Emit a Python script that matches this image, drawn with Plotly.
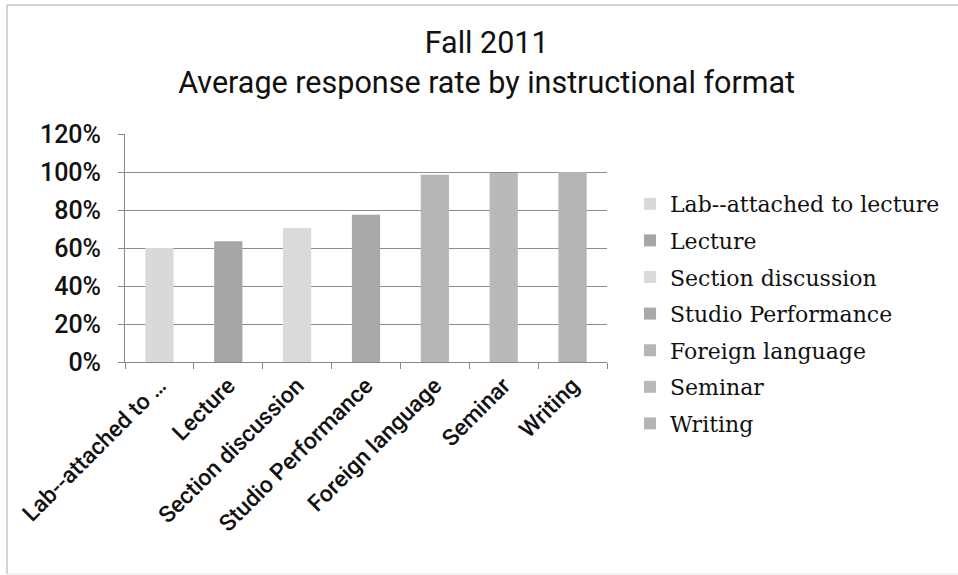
import plotly.graph_objects as go

categories = ["Lab--attached to lecture", "Lecture", "Section discussion",
              "Studio Performance", "Foreign language", "Seminar", "Writing"]
tick_labels = ["Lab--attached to …", "Lecture", "Section discussion",
               "Studio Performance", "Foreign language", "Seminar", "Writing"]
values = [0.60, 0.635, 0.705, 0.775, 0.985, 0.995, 1.00]
colors = ["#d9d9d9", "#a6a6a6", "#dadada", "#a9a9a9", "#b6b6b6", "#b9b9b9", "#b4b4b4"]

fig = go.Figure()
for cat, lab, v, c in zip(categories, tick_labels, values, colors):
    fig.add_trace(go.Bar(
        x=[lab], y=[v], name=cat, marker=dict(color=c, line=dict(width=0)),
        width=0.41, legendgroup=cat,
    ))

W, H = 958, 575
L, R, T, B = 125, 351, 134, 213
pw, ph = W - L - R, H - T - B

def px_to_paper(x, y):
    return (x - L) / pw, (H - B - y) / ph

bl, bt = px_to_paper(7, 5)
br, bb = px_to_paper(958, 574)

fig.update_layout(
    width=W, height=H,
    margin=dict(l=L, r=R, t=T, b=B, autoexpand=False),
    paper_bgcolor="white", plot_bgcolor="white",
    barmode="overlay",
    title=dict(
        text="Fall 2011<br>Average response rate by instructional format",
        x=0.508, xanchor="center", y=1 - 53 / H, yanchor="top",
        font=dict(family="Roboto, sans-serif", size=30.5, color="#111111"),
        automargin=False,
    ),
    font=dict(family="Roboto, sans-serif", color="#111111"),
    legend=dict(
        x=630 / W, xref="container", xanchor="left",
        y=1 - 314 / H, yref="container", yanchor="middle",
        font=dict(family="DejaVu Serif, serif", size=22, color="#111111"),
        tracegroupgap=5, itemwidth=30, maxheight=540,
        bgcolor="rgba(0,0,0,0)",
    ),
    xaxis=dict(
        type="category", tickson="boundaries", ticks="outside", ticklen=6,
        tickcolor="#888888", showline=True, linecolor="#888888", linewidth=1,
        tickangle=-45, showgrid=False, automargin=False,
        tickfont=dict(family="Roboto, sans-serif", size=23, color="#111111", weight=500),
    ),
    yaxis=dict(
        range=[0, 1.2], dtick=0.2, tickformat=".0%",
        ticks="outside", ticklen=6, tickcolor="#888888",
        showline=True, linecolor="#888888", linewidth=1,
        showgrid=True, gridcolor="#8c8c8c", gridwidth=1,
        zeroline=False, automargin=False, ticklabelstandoff=12,
        tickfont=dict(family="Roboto, sans-serif", size=25, color="#111111", weight=500),
    ),
    shapes=[
        dict(type="line", xref="paper", yref="paper", x0=bl, y0=bt, x1=br, y1=bt,
             line=dict(color="#c4c4c4", width=1.5), layer="below"),
        dict(type="line", xref="paper", yref="paper", x0=bl, y0=bt, x1=bl, y1=bb,
             line=dict(color="#c4c4c4", width=1.5), layer="below"),
        dict(type="line", xref="paper", yref="paper", x0=bl, y0=bb, x1=br, y1=bb,
             line=dict(color="#e6e6e6", width=1), layer="below"),
    ],
)

fig.write_html("out.html", config={"displayModeBar": False},
               post_script="document.body.style.margin='0';document.body.style.overflow='hidden';")
